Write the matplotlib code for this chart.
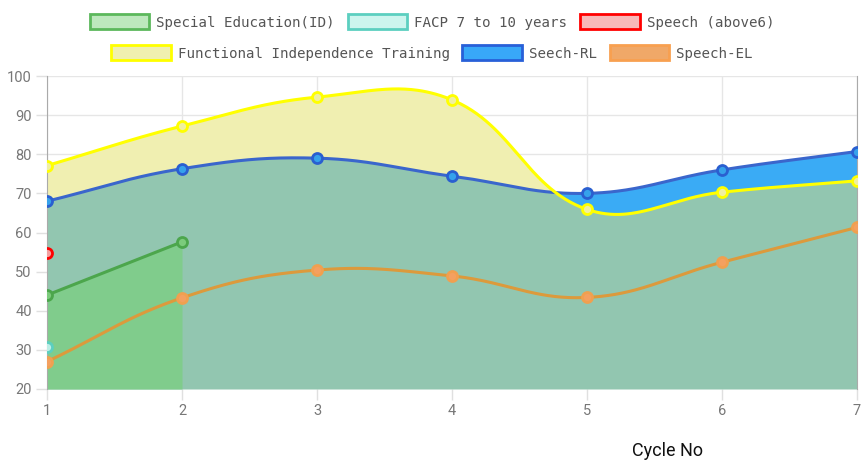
import numpy as np
import matplotlib
matplotlib.use("Agg")
import matplotlib.pyplot as plt
from matplotlib.patches import Patch
from matplotlib import font_manager

# ---- data ----
cycles = [1, 2, 3, 4, 5, 6, 7]
special_ed = [44.0, 57.6]
facp = [30.7]
speech_above6 = [54.8]
fit = [77.1, 87.2, 94.6, 93.9, 65.9, 70.3, 73.2]
seech_rl = [68.0, 76.3, 79.0, 74.4, 70.0, 76.0, 80.7]
speech_el = [27.0, 43.3, 50.4, 48.9, 43.4, 52.4, 61.3]

legend_row1 = ["Special Education(ID)", "FACP 7 to 10 years", "Speech (above6)"]
legend_row2 = ["Functional Independence Training", "Seech-RL", "Speech-EL"]

# pixels per data unit (used so the spline matches Chart.js tension in screen space)
PX_X, PX_Y = 135.0, 3.91


def spline(xs, ys, tension=0.4, n=60):
    """Chart.js style cubic interpolation, returns dense x, y."""
    xs = np.asarray(xs, float)
    ys = np.asarray(ys, float)
    px, py = xs * PX_X, ys * PX_Y
    m = len(xs)
    if m < 2:
        return xs, ys
    cps = []
    for i in range(m):
        prev = i - 1 if i > 0 else i
        nxt = i + 1 if i < m - 1 else i
        d01 = np.hypot(px[i] - px[prev], py[i] - py[prev])
        d12 = np.hypot(px[nxt] - px[i], py[nxt] - py[i])
        tot = d01 + d12
        s01 = d01 / tot if tot else 0
        s12 = d12 / tot if tot else 0
        fa, fb = tension * s01, tension * s12
        dx, dy = px[nxt] - px[prev], py[nxt] - py[prev]
        cps.append(((px[i] - fa * dx, py[i] - fa * dy),
                    (px[i] + fb * dx, py[i] + fb * dy)))
    t = np.linspace(0, 1, n)
    out_x, out_y = [], []
    for i in range(m - 1):
        p0 = np.array([px[i], py[i]])
        p1 = np.array(cps[i][1])
        p2 = np.array(cps[i + 1][0])
        p3 = np.array([px[i + 1], py[i + 1]])
        pts = ((1 - t) ** 3)[:, None] * p0 + (3 * (1 - t) ** 2 * t)[:, None] * p1 \
            + (3 * (1 - t) * t ** 2)[:, None] * p2 + (t ** 3)[:, None] * p3
        if i > 0:
            pts = pts[1:]
        out_x.append(pts[:, 0])
        out_y.append(pts[:, 1])
    return np.concatenate(out_x) / PX_X, np.clip(np.concatenate(out_y) / PX_Y, 20, 100)


names = {f.name for f in font_manager.fontManager.ttflist}
tick_font = "Liberation Sans Narrow" if "Liberation Sans Narrow" in names else "Roboto"
mono_font = "DejaVu Sans Mono"

fig = plt.figure(figsize=(8.61, 4.70), dpi=100)
ax = fig.add_axes([47 / 861, 1 - 389 / 470, 810 / 861, 313 / 470])

xg = np.linspace(1, 7, 1200)
fx, fy = spline(cycles, fit)
bx, by = spline(cycles, seech_rl)
ox, oy = spline(cycles, speech_el)
gx, gy = spline(cycles[:2], special_ed)
yel = np.interp(xg, fx, fy)
blu = np.interp(xg, bx, by)

# fills
ax.fill_between(xg, 20, np.minimum(yel, blu), color="#92c6b0", lw=0, zorder=1)
ax.fill_between(xg, blu, yel, where=yel >= blu, color="#f0efb1", lw=0, zorder=1,
                interpolate=True)
ax.fill_between(xg, yel, blu, where=blu >= yel, color="#3aabf5", lw=0, zorder=1,
                interpolate=True)
ax.fill_between(gx, 20, gy, color="#80cc8c", lw=0, zorder=1.5)

# lines
ax.plot(gx, gy, color="#4ca64c", lw=2.2, zorder=3)
ax.plot(ox, oy, color="#dc9a3c", lw=2.2, zorder=3)
ax.plot(bx, by, color="#3a66cc", lw=2.2, zorder=3)
ax.plot(fx, fy, color="#ffff00", lw=2.2, zorder=4)

# points
mk = dict(marker="o", ms=7.2, mew=2.0, ls="none", zorder=5)
ax.plot(cycles[:2], special_ed, mfc="#7ccb7c", mec="#4ca64c", **mk)
ax.plot(cycles[:1], facp, mfc="#bdeee6", mec="#5ccfc0", **mk)
ax.plot(cycles[:1], speech_above6, mfc="#f4a0a0", mec="#ff0000", **mk)
ax.plot(cycles, speech_el, mfc="#f4a060", mec="#f0a050", **mk)
ax.plot(cycles, seech_rl, mfc="#36a2eb", mec="#2a5fd0", **mk)
ax.plot(cycles, fit, mfc="#f0f0a0", mec="#ffff00", **mk)

# axes styling
ax.set_xlim(1, 7)
ax.set_ylim(20, 100)
ax.set_xticks(cycles)
ax.set_yticks(range(20, 101, 10))
ax.grid(True, color="#e6e6e6", lw=1, zorder=0)
ax.set_axisbelow(True)
for s in ["top", "bottom"]:
    ax.spines[s].set_visible(False)
ax.spines["left"].set_color("#aaaaaa")
ax.spines["right"].set_color("#aaaaaa")
ax.tick_params(axis="both", length=8, width=1, color="#e0e0e0", labelcolor="#777777",
               labelsize=10.5, pad=3)
for lab in ax.get_xticklabels() + ax.get_yticklabels():
    lab.set_family(tick_font)

fig.text(667 / 861, 1 - 451 / 470, "Cycle No", ha="center", va="center",
         fontsize=13, family="Roboto", color="#111111")

# legend, two centered rows
row1_style = [("#bde8bd", "#5cb85c"), ("#ccf5ee", "#5ccfc0"), ("#f8b8b8", "#ff0000")]
row2_style = [("#f0f0b0", "#ffff00"), ("#38a8f8", "#2860d8"), ("#f0a868", "#f8a050")]
for labels, style, yc in [(legend_row1, row1_style, 22), (legend_row2, row2_style, 53)]:
    handles = [Patch(facecolor=f, edgecolor=e, lw=2, label=l)
               for l, (f, e) in zip(labels, style)]
    fig.legend(handles=handles, loc="center", bbox_to_anchor=(432 / 861, 1 - yc / 470),
               ncol=3, frameon=False, prop={"family": mono_font, "size": 10.2},
               handlelength=4.2, handleheight=1.2, handletextpad=0.5,
               columnspacing=0.9, labelcolor="#555555", borderpad=0)

fig.savefig("out.png", dpi=100)
